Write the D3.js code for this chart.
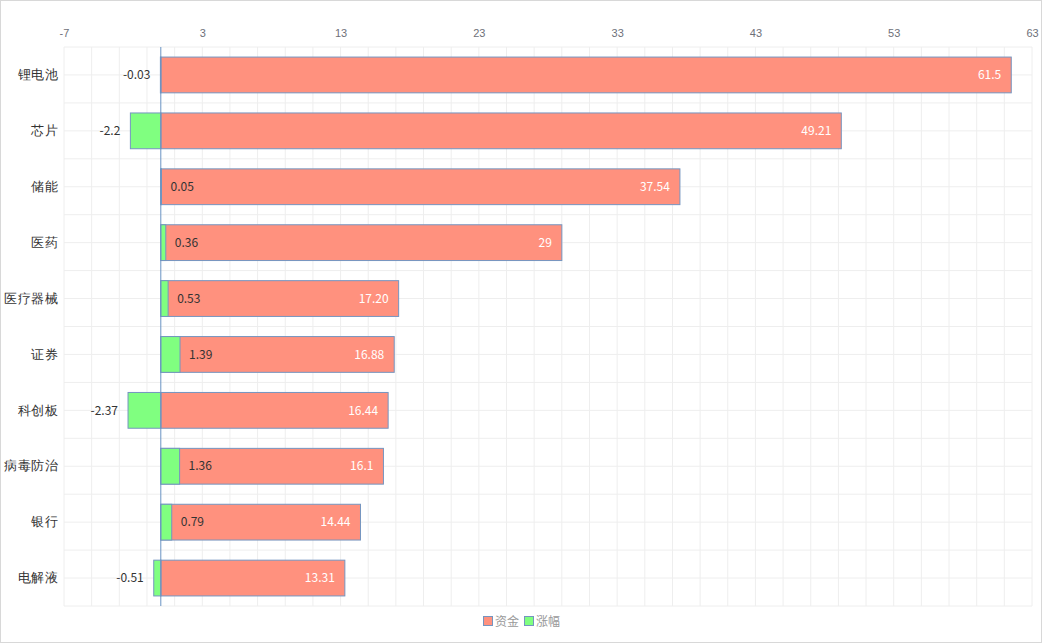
<!DOCTYPE html>
<html>
<head>
<meta charset="utf-8">
<script src="https://cdn.jsdelivr.net/npm/d3@7/dist/d3.min.js"></script>
<style>
  body { margin: 0; background: #fff; }
  svg { display: block; font-family: "Noto Sans CJK SC", "Noto Sans", sans-serif; }
</style>
</head>
<body>
<div id="chart"></div>
<script>
const categories = ['锂电池', '芯片', '储能', '医药', '医疗器械', '证券', '科创板', '病毒防治', '银行', '电解液'];
const fundValues = [61.5, 49.21, 37.54, 29, 17.20, 16.88, 16.44, 16.1, 14.44, 13.31];
const fundLabels = ['61.5', '49.21', '37.54', '29', '17.20', '16.88', '16.44', '16.1', '14.44', '13.31'];
const changeValues = [-0.03, -2.2, 0.05, 0.36, 0.53, 1.39, -2.37, 1.36, 0.79, -0.51];
const xTicks = [-7, 3, 13, 23, 33, 43, 53, 63];
const legendNames = ['资金', '涨幅'];

const W = 1042, H = 643;
const margin = { top: 47, right: 10, bottom: 37, left: 64 };
const width = W - margin.left - margin.right;
const height = H - margin.top - margin.bottom;

const svg = d3.select('#chart').append('svg')
    .attr('width', W)
    .attr('height', H);

// outer frame
svg.append('rect')
    .attr('x', 0.5).attr('y', 0.5)
    .attr('width', W - 1).attr('height', H - 1)
    .attr('fill', '#fff')
    .attr('stroke', '#d8d8d8');

const g = svg.append('g')
    .attr('transform', `translate(${margin.left},${margin.top})`);

const x = d3.scaleLinear().domain([-7, 63]).range([0, width]);
const y = d3.scaleBand().domain(categories).range([0, height]);
const barH = y.bandwidth() * 0.64;

// grid: vertical every 2 units, horizontal every half band
g.append('g').selectAll('line')
    .data(d3.range(-7, 63.01, 2))
    .enter().append('line')
    .attr('x1', d => x(d)).attr('x2', d => x(d))
    .attr('y1', 0).attr('y2', height)
    .attr('stroke', '#eeeeee');

g.append('g').selectAll('line')
    .data(d3.range(0, categories.length * 2 + 1))
    .enter().append('line')
    .attr('x1', 0).attr('x2', width)
    .attr('y1', d => d * y.bandwidth() / 2).attr('y2', d => d * y.bandwidth() / 2)
    .attr('stroke', '#eeeeee');

// top axis labels
const xAxis = d3.axisTop(x).tickValues(xTicks).tickFormat(d => String(d)).tickSize(0).tickPadding(10);
g.append('g')
    .call(xAxis)
    .call(a => a.select('.domain').remove())
    .selectAll('text')
    .attr('fill', '#6e7079')
    .style('font-size', '11px');

// category labels
const yAxis = d3.axisLeft(y).tickSize(0).tickPadding(6);
g.append('g')
    .call(yAxis)
    .call(a => a.select('.domain').remove())
    .selectAll('text')
    .attr('fill', '#333')
    .style('font-size', '13px')
    .style('letter-spacing', '0.5px');

// 资金 bars
g.selectAll('.fund')
    .data(fundValues)
    .enter().append('rect')
    .attr('class', 'fund')
    .attr('x', x(0))
    .attr('y', (d, i) => y(categories[i]) + (y.bandwidth() - barH) / 2)
    .attr('width', d => x(d) - x(0))
    .attr('height', barH)
    .attr('fill', '#ff917e')
    .attr('stroke', '#7595c0')
    .attr('stroke-width', 1);

// 涨幅 bars drawn over
g.selectAll('.change')
    .data(changeValues)
    .enter().append('rect')
    .attr('class', 'change')
    .attr('x', d => Math.min(x(0), x(d)))
    .attr('y', (d, i) => y(categories[i]) + (y.bandwidth() - barH) / 2)
    .attr('width', d => Math.abs(x(d) - x(0)))
    .attr('height', barH)
    .attr('fill', '#80ff80')
    .attr('stroke', '#7595c0')
    .attr('stroke-width', 1);

// zero line
g.append('line')
    .attr('x1', x(0)).attr('x2', x(0))
    .attr('y1', 0).attr('y2', height)
    .attr('stroke', '#6a93c4')
    .attr('stroke-width', 1);

// 资金 labels (inside right)
g.selectAll('.fund-label')
    .data(fundValues)
    .enter().append('text')
    .attr('x', d => x(d) - 10)
    .attr('y', (d, i) => y(categories[i]) + y.bandwidth() / 2)
    .attr('dy', '0.35em')
    .attr('text-anchor', 'end')
    .attr('fill', '#fff')
    .style('font-size', '12px')
    .text((d, i) => fundLabels[i]);

// 涨幅 labels (outside end)
g.selectAll('.change-label')
    .data(changeValues)
    .enter().append('text')
    .attr('x', d => d < 0 ? x(d) - 10 : x(d) + 9)
    .attr('y', (d, i) => y(categories[i]) + y.bandwidth() / 2)
    .attr('dy', '0.35em')
    .attr('text-anchor', d => d < 0 ? 'end' : 'start')
    .attr('fill', '#333')
    .style('font-size', '12px')
    .text(d => String(d));

// legend
const legend = svg.append('g').attr('transform', 'translate(483,622)');
const legendColors = ['#ff917e', '#80ff80'];
let lx = 0;
legendNames.forEach((name, i) => {
    legend.append('rect')
        .attr('x', lx + 0.5).attr('y', -5.5)
        .attr('width', 9).attr('height', 9)
        .attr('fill', legendColors[i])
        .attr('stroke', '#7595c0');
    legend.append('text')
        .attr('x', lx + 12)
        .attr('y', 0)
        .attr('dy', '0.35em')
        .attr('fill', '#999')
        .style('font-size', '12px')
        .text(name);
    lx += 41;
});
</script>
</body>
</html>
